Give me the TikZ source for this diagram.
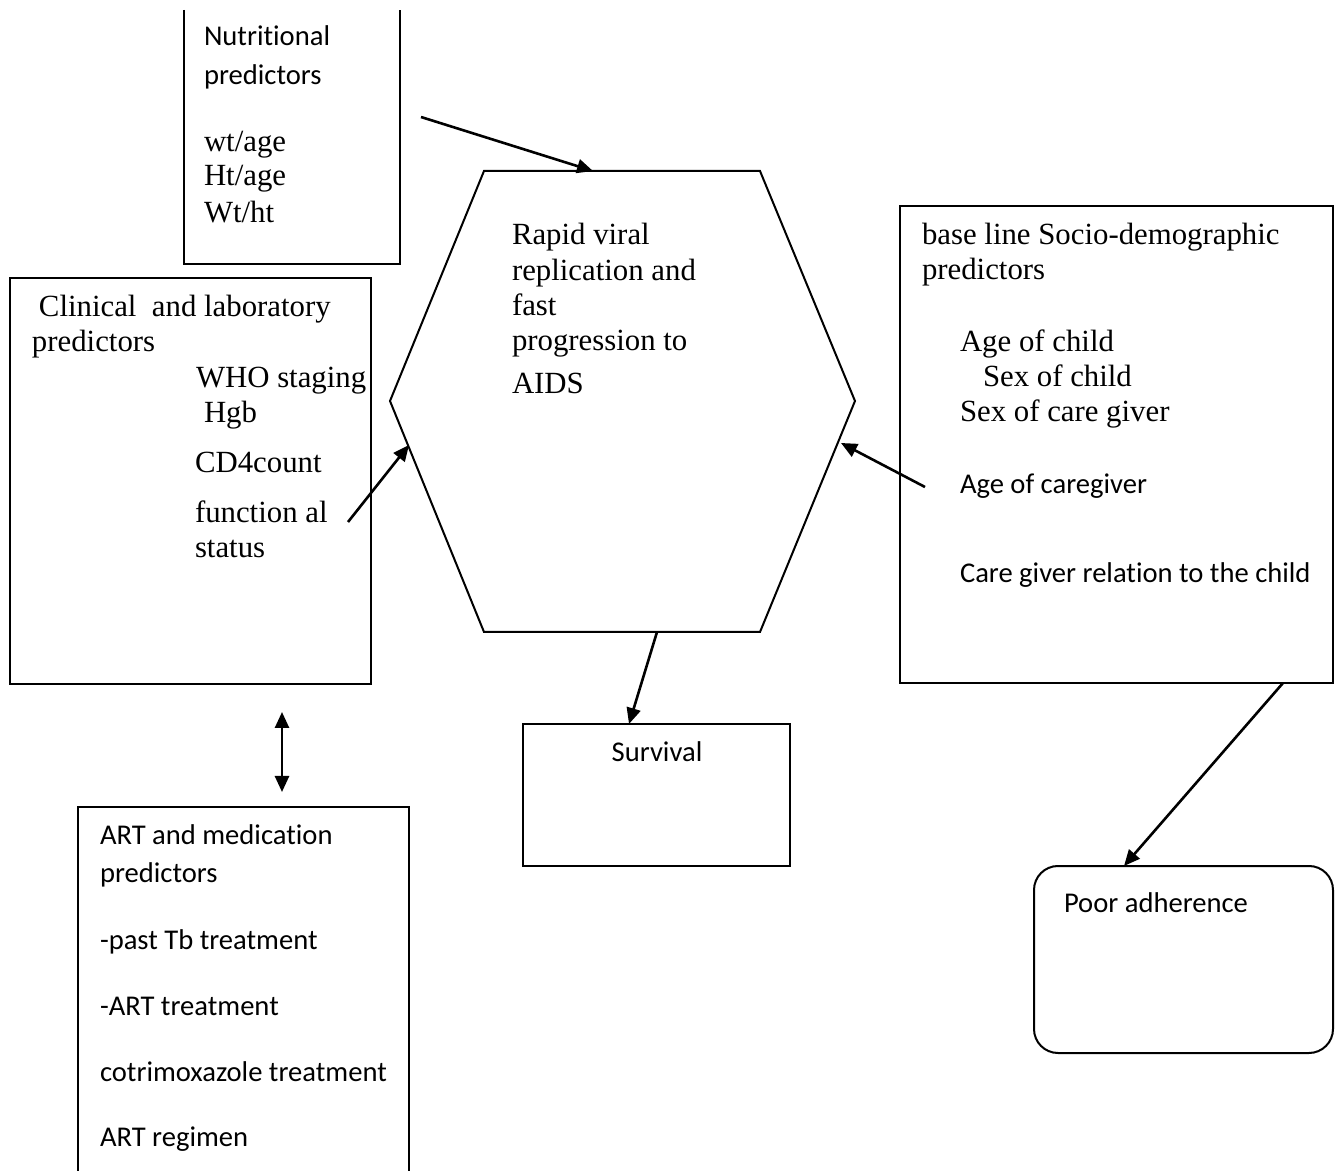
\documentclass[tikz,border=0pt]{standalone}
\usepackage{fontspec}
\setmainfont{Liberation Serif}
\newfontfamily\calibri{Carlito}[Ligatures=NoCommon]
\usetikzlibrary{arrows.meta, calc}

\begin{document}
\begin{tikzpicture}[x=0.5pt, y=-0.5pt, line width=1pt,
    tnr/.style={anchor=base west, inner sep=0pt, font=\fontsize{15.4}{18}\selectfont},
    cal/.style={anchor=base west, inner sep=0pt, font=\calibri\fontsize{14.3}{17}\selectfont},
    link/.style={-{Triangle[length=8pt, width=7pt]}, line width=1.3pt}]
  \useasboundingbox (0,0) rectangle (1335,1171);

  % boxes
  \draw (184,10) -- (184,264) -- (400,264) -- (400,10);        % nutritional, top is cut off
  \draw (10,278) rectangle (371,684);                           % clinical
  \draw (900,206) rectangle (1333,683);                         % socio-demographic
  \draw (523,724) rectangle (790,866);                          % survival
  \draw[rounded corners=12pt] (1034,866) rectangle (1333,1053); % adherence
  \draw (78,1171) -- (78,807) -- (409,807) -- (409,1171);       % ART, bottom is cut off

  % hexagon
  \draw (484,171) coordinate (h1) -- (760,171) coordinate (h2)
     -- (855,401) coordinate (h3) -- (760,632) coordinate (h4)
     -- (484,632) coordinate (h5) -- (390,401) coordinate (h6) -- cycle;

  % texts
  \foreach \x/\y/\t [count=\i] in {203/46/Nutritional, 203/85/predictors}
    \node[cal] (nutr\i) at (\x,\y) {\t};
  \foreach \x/\y/\t [count=\i] in {203/152/{wt/age}, 203/186/{Ht/age}, 203/223/{Wt/ht}}
    \node[tnr] (ratio\i) at (\x,\y) {\t};
  \foreach \x/\y/\t [count=\i] in {511/245/Rapid viral, 511/281/replication and,
      511/316/fast, 511/351/progression to, 511/394/AIDS}
    \node[tnr] (hex\i) at (\x,\y) {\t};
  \foreach \x/\y/\t [count=\i] in {38/317/{Clinical\ \ and laboratory}, 31/352/predictors,
      195/388/WHO staging, 203/423/Hgb, 194/473/CD4count, 194/523/function al, 194/558/status}
    \node[tnr] (clin\i) at (\x,\y) {\t};
  \foreach \x/\y/\t [count=\i] in {921/245/base line Socio-demographic, 921/280/predictors,
      959/352/Age of child, 982/387/Sex of child, 959/422/Sex of care giver}
    \node[tnr] (socio\i) at (\x,\y) {\t};
  \foreach \x/\y/\t [count=\i] in {959/494/Age of caregiver, 959/583/Care giver relation to the child}
    \node[cal] (care\i) at (\x,\y) {\t};
  \node[cal, anchor=base] (surv) at (657,762) {Survival};
  \node[cal] (poor) at (1063,912) {Poor adherence};
  \foreach \x/\y/\t [count=\i] in {99/844/ART and medication, 99/883/predictors,
      99/949/-past Tb treatment, 99/1015/-ART treatment,
      99/1081/cotrimoxazole treatment, 99/1146/ART regimen}
    \node[cal] (art\i) at (\x,\y) {\t};

  % connector ends
  \coordinate (nutrtail) at (421,117);
  \coordinate (hextop) at (593,171);
  \coordinate (clintail) at (348,522);
  \coordinate (hexleft) at (409,445);
  \coordinate (sociotail) at (925,487);
  \coordinate (hexright) at (841,443);
  \coordinate (hexbottom) at (657,632);
  \coordinate (survtop) at (629,724);
  \coordinate (sociobottom) at (1283,683);
  \coordinate (poortop) at (1124,866);
  \coordinate (clinbelow) at (282,712);
  \coordinate (artabove) at (282,792);

  % arrows
  \draw[link] (nutrtail) -- (hextop);
  \draw[link] (clintail) -- (hexleft);
  \draw[link] (sociotail) -- (hexright);
  \draw[link] (hexbottom) -- (survtop);
  \draw[link] (sociobottom) -- (poortop);
  \draw[link, {Triangle[length=8pt, width=7pt]}-{Triangle[length=8pt, width=7pt]}] (clinbelow) -- (artabove);
\end{tikzpicture}
\end{document}
